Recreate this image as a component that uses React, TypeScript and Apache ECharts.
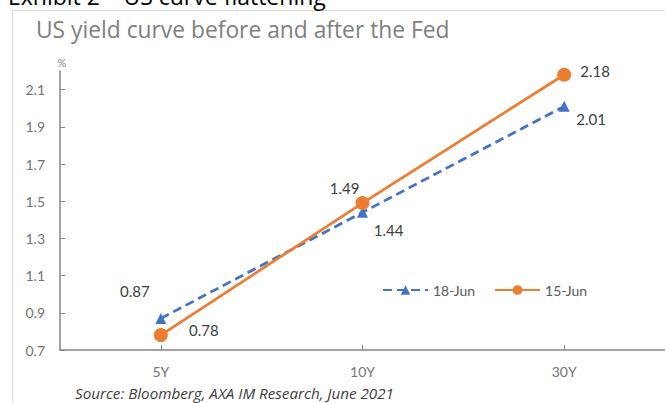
import React, { useEffect, useRef } from "react";
import * as echarts from "echarts";

const categories = ["5Y", "10Y", "30Y"];
const seriesNames = ["18-Jun", "15-Jun"];
const jun18 = [0.87, 1.44, 2.01];
const jun15 = [0.78, 1.49, 2.18];
const yTicks = { min: 0.7, max: 2.2, interval: 0.2 };

// label offsets relative to the symbol centre (style only)
const jun18LabelOffsets = [[-26, -27], [26, 18], [27, 13]];
const jun15LabelOffsets = [[43, -5], [-18, -15], [31, -4]];

const FONT = "Lato, 'Open Sans', sans-serif";
const WIDE = "'Open Sans', Lato, sans-serif";

export default function App() {
  const ref = useRef<HTMLDivElement>(null);
  useEffect(() => {
    if (!ref.current) return;
    const chart = echarts.init(ref.current, null, { renderer: "svg" });
    const labelBase = {
      show: true,
      position: "inside",
      fontSize: 15,
      color: "#404040",
      fontFamily: FONT,
      formatter: (p: any) => p.value.toFixed(2),
    };
    chart.setOption({
      animation: false,
      backgroundColor: "#ffffff",
      textStyle: { fontFamily: FONT },
      grid: { left: 60, right: 0, top: 71, bottom: 53, containLabel: false },
      legend: {
        data: seriesNames,
        left: 377,
        top: 278,
        itemWidth: 45,
        itemHeight: 12,
        itemGap: 19,
        textStyle: { fontSize: 14, color: "#595959", fontFamily: FONT },
      },
      xAxis: {
        type: "category",
        data: categories,
        boundaryGap: true,
        axisLine: { lineStyle: { color: "#858585", width: 1.5 } },
        axisTick: { show: true, alignWithLabel: true, inside: true, length: 5, lineStyle: { color: "#858585" } },
        axisLabel: { fontSize: 14, color: "#737373", margin: 14, fontFamily: FONT },
        splitLine: { show: false },
      },
      yAxis: {
        type: "value",
        min: yTicks.min,
        max: yTicks.max,
        interval: yTicks.interval,
        axisLine: { show: true, lineStyle: { color: "#858585", width: 1.5 } },
        axisTick: { show: true, inside: true, length: 5, lineStyle: { color: "#858585" } },
        axisLabel: {
          fontSize: 14,
          color: "#737373",
          margin: 15,
          fontFamily: FONT,
          showMaxLabel: false,
          formatter: (v: number) => v.toFixed(1),
        },
        splitLine: { show: false },
      },
      series: [
        {
          name: seriesNames[0],
          type: "line",
          data: jun18.map((v, i) => ({ value: v, label: { offset: jun18LabelOffsets[i] } })),
          symbol: "triangle",
          symbolSize: 11,
          lineStyle: { color: "#4472C4", width: 2.75, type: [9, 5] },
          itemStyle: { color: "#4472C4", borderWidth: 0 },
          label: labelBase,
          z: 2,
        },
        {
          name: seriesNames[1],
          type: "line",
          data: jun15.map((v, i) => ({ value: v, label: { offset: jun15LabelOffsets[i] } })),
          symbol: "circle",
          symbolSize: 14,
          lineStyle: { color: "#ED7D31", width: 2.75 },
          itemStyle: { color: "#ED7D31", borderWidth: 0 },
          label: labelBase,
          z: 3,
        },
      ],
      graphic: [
        {
          type: "rect",
          shape: { x: 12.5, y: 10.5, width: 700, height: 500 },
          style: { fill: "none", stroke: "#d9d9d9", lineWidth: 1 },
          silent: true,
          z: -10,
        },
        {
          type: "text",
          x: 8,
          y: 7,
          style: {
            text: "Exhibit 2 \u2013 US curve flattening",
            fontSize: 23,
            fill: "#000000",
            fontFamily: WIDE,
            verticalAlign: "bottom",
          },
        },
        {
          type: "text",
          x: 36,
          y: 29,
          style: {
            text: "US yield curve before and after the Fed",
            fontSize: 22.8,
            fill: "#808080",
            fontFamily: WIDE,
            verticalAlign: "middle",
          },
        },
        {
          type: "text",
          x: 62,
          y: 62,
          style: { text: "%", fontSize: 11, fill: "#7f7f7f", fontFamily: FONT, align: "center", verticalAlign: "middle" },
        },
        {
          type: "text",
          x: 75,
          y: 393,
          style: {
            text: "Source: Bloomberg, AXA IM Research, June 2021",
            fontSize: 15.2,
            fontStyle: "italic",
            fill: "#404040",
            fontFamily: WIDE,
            verticalAlign: "middle",
          },
        },
      ],
    });
    return () => chart.dispose();
  }, []);
  return <div ref={ref} style={{ position: "fixed", left: 0, top: 0, width: 665, height: 403 }} />;
}
